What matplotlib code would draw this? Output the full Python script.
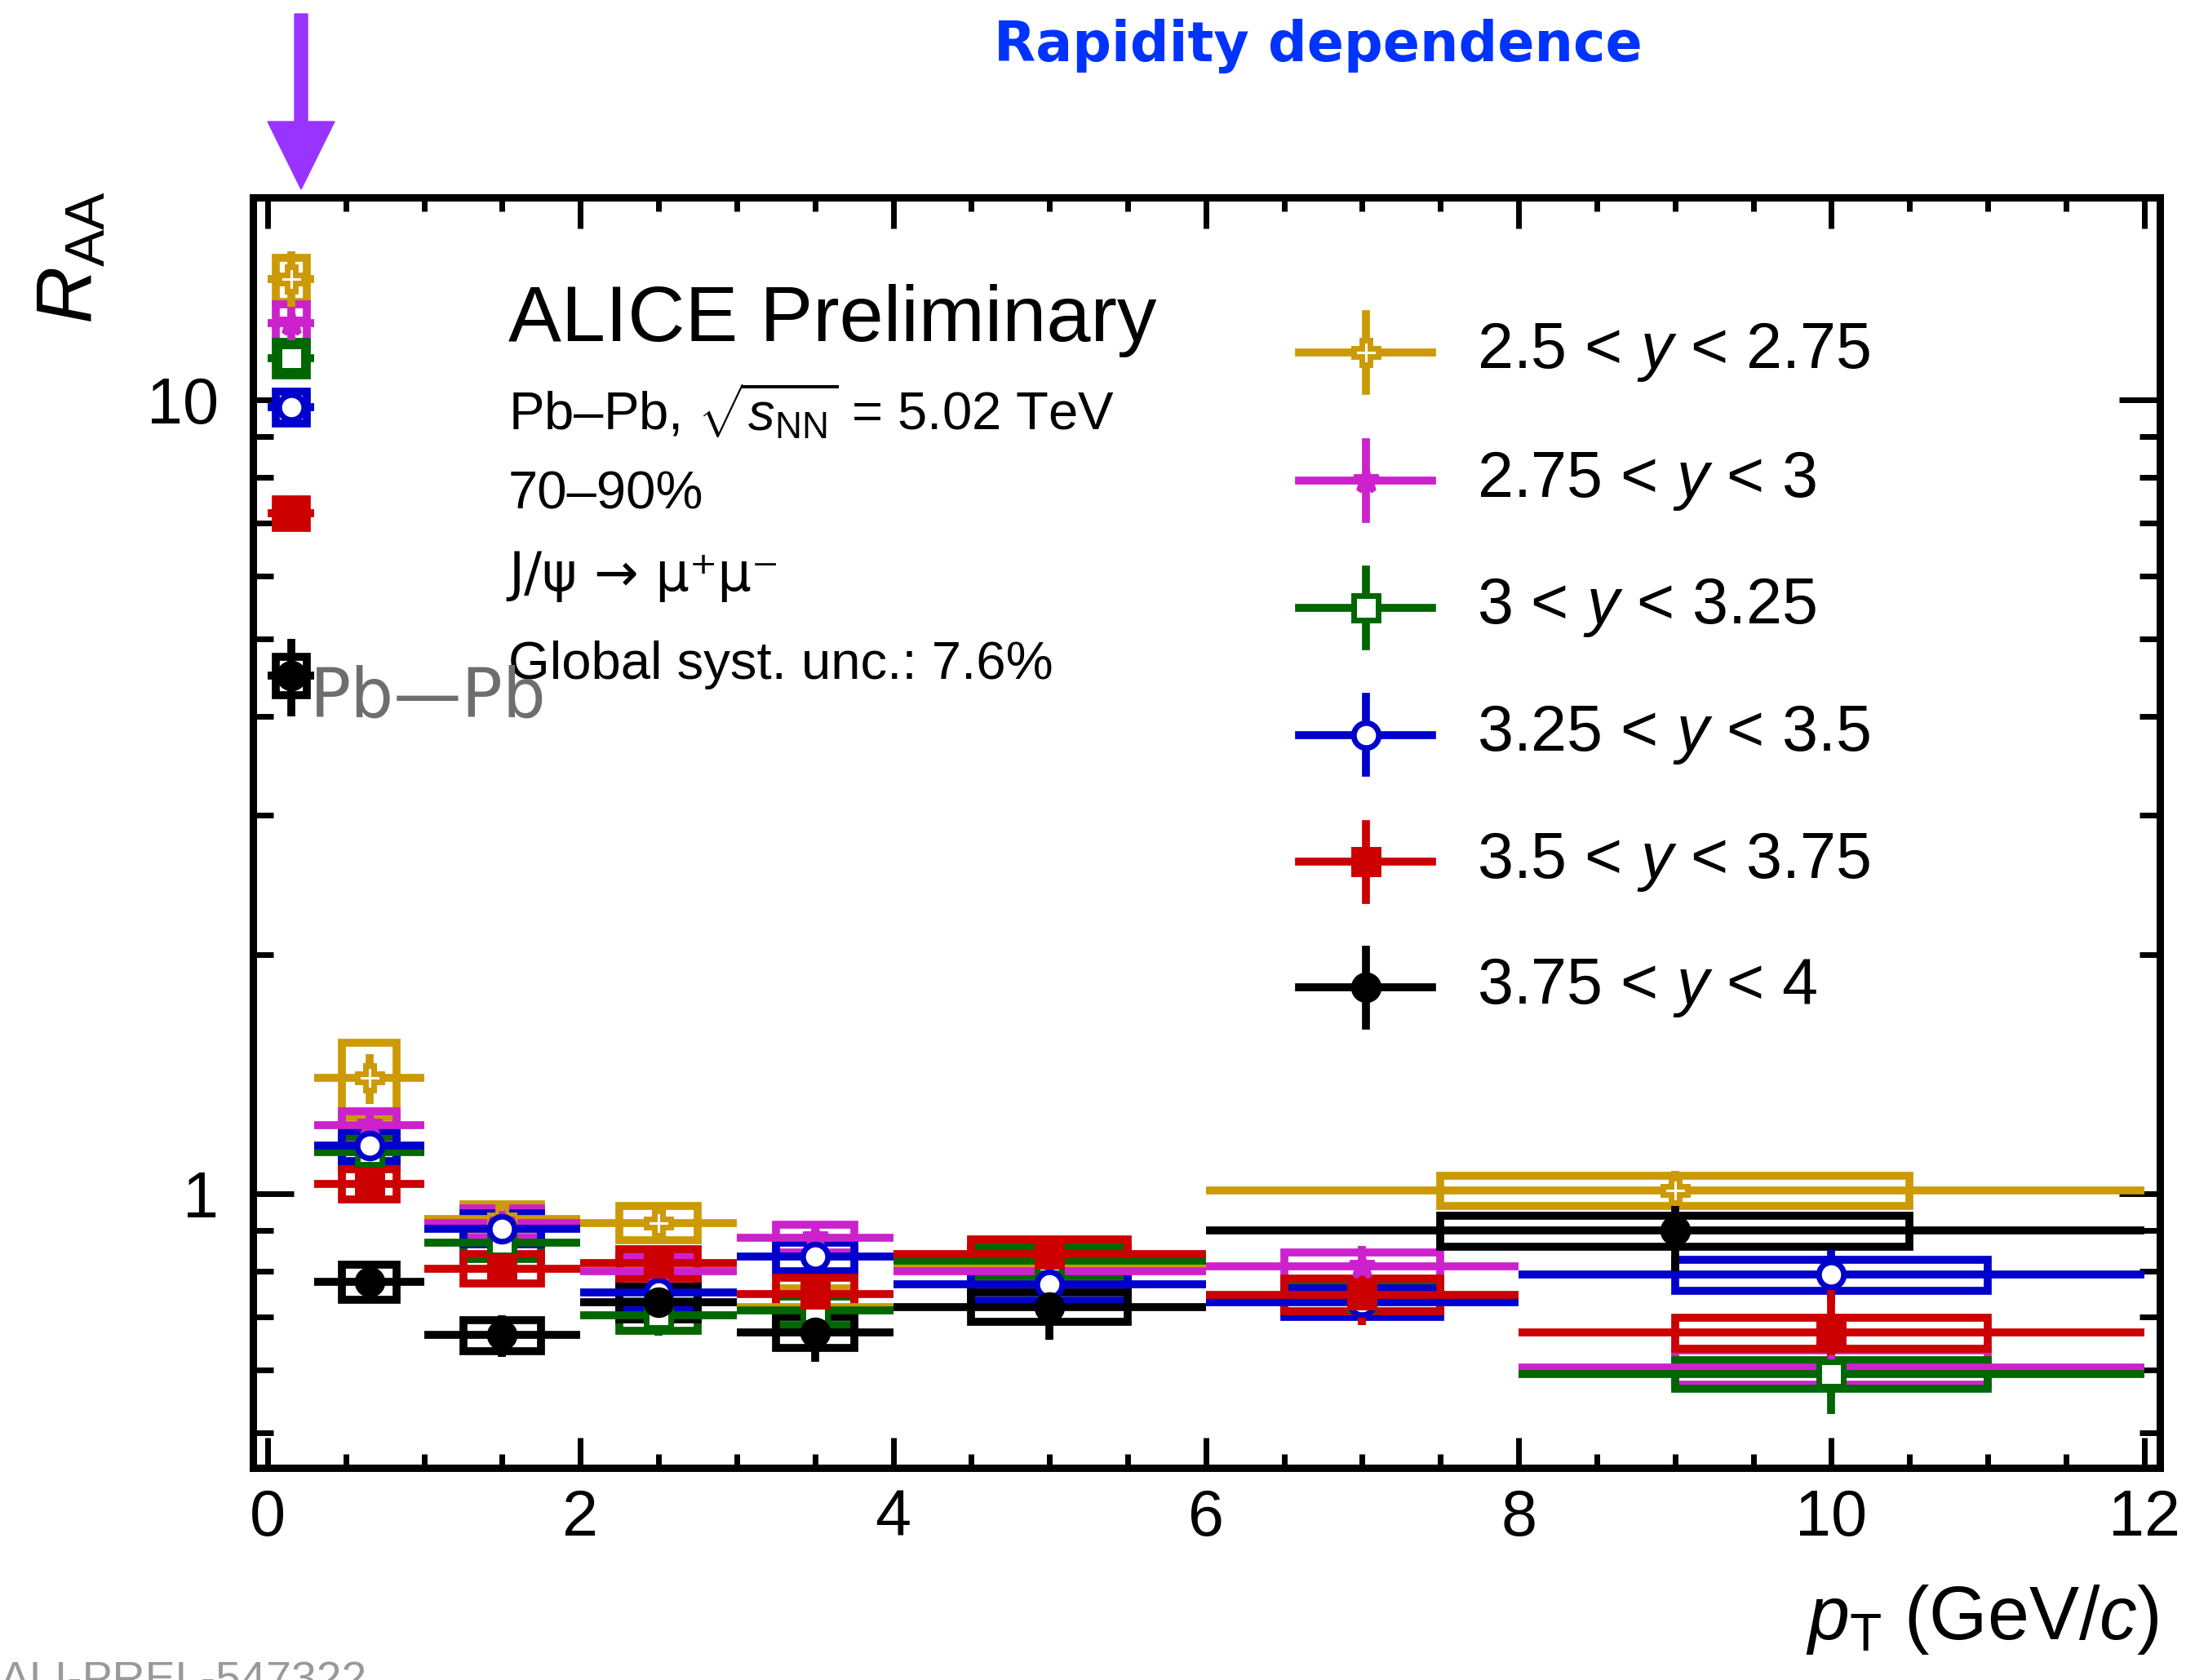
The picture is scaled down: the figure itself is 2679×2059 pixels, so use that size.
import matplotlib
matplotlib.use("Agg")
import matplotlib.pyplot as plt
import numpy as np
from matplotlib.patches import Rectangle, FancyArrow
from matplotlib.ticker import FixedLocator, NullFormatter, LogLocator

plt.rcParams['font.family'] = ['Liberation Sans', 'DejaVu Sans']
plt.rcParams['mathtext.fontset'] = 'custom'
plt.rcParams['mathtext.rm'] = 'Liberation Sans'
plt.rcParams['mathtext.it'] = 'Liberation Sans:italic'
plt.rcParams['mathtext.bf'] = 'Liberation Sans:bold'

# ---- data ----
labels = [r'2.5 < $y$ < 2.75', r'2.75 < $y$ < 3', r'3 < $y$ < 3.25',
          r'3.25 < $y$ < 3.5', r'3.5 < $y$ < 3.75', r'3.75 < $y$ < 4']
colors = ['#cc9a06', '#cc22cc', '#006600', '#0000cc', '#cc0000', '#000000']

edges_a = [0, 0.3, 1, 2, 3, 4, 6, 12]        # 2.5-2.75 and 3.75-4
edges_b = [0, 0.3, 1, 2, 3, 4, 6, 8, 12]     # other rapidity bins

raa_1 = [14.2, 1.40, 0.93, 0.92, 0.72, 0.81, 1.01]
stat_1 = [1.2, 0.10, 0.05, 0.05, 0.05, 0.05, 0.06]
syst_1 = [0.9, 0.15, 0.04, 0.045, 0.04, 0.035, 0.045]

raa_2 = [12.5, 1.22, 0.92, 0.80, 0.88, 0.80, 0.81, 0.605]
stat_2 = [0.6, 0.04, 0.04, 0.04, 0.04, 0.04, 0.05, 0.05]
syst_2 = [0.7, 0.05, 0.04, 0.035, 0.035, 0.035, 0.035, 0.03]

raa_3 = [11.3, 1.13, 0.868, 0.703, 0.713, 0.824, 0.739, 0.593]
stat_3 = [0.5, 0.04, 0.04, 0.04, 0.04, 0.04, 0.04, 0.065]
syst_3 = [0.55, 0.05, 0.04, 0.03, 0.03, 0.035, 0.03, 0.025]

raa_4 = [9.8, 1.15, 0.905, 0.751, 0.834, 0.769, 0.730, 0.791]
stat_4 = [0.4, 0.04, 0.04, 0.035, 0.035, 0.04, 0.04, 0.06]
syst_4 = [0.45, 0.05, 0.04, 0.035, 0.035, 0.035, 0.03, 0.035]

raa_5 = [7.2, 1.03, 0.806, 0.818, 0.749, 0.841, 0.747, 0.669]
stat_5 = [0.25, 0.03, 0.03, 0.03, 0.04, 0.04, 0.063, 0.09]
syst_5 = [0.3, 0.045, 0.035, 0.035, 0.035, 0.035, 0.035, 0.03]

raa_6 = [4.5, 0.775, 0.664, 0.73, 0.670, 0.721, 0.899]
stat_6 = [0.5, 0.04, 0.04, 0.05, 0.055, 0.065, 0.1]
syst_6 = [0.25, 0.04, 0.03, 0.035, 0.03, 0.031, 0.04]

series = [
    (edges_a, raa_1, stat_1, syst_1),
    (edges_b, raa_2, stat_2, syst_2),
    (edges_b, raa_3, stat_3, syst_3),
    (edges_b, raa_4, stat_4, syst_4),
    (edges_b, raa_5, stat_5, syst_5),
    (edges_a, raa_6, stat_6, syst_6),
]
markers = ['P', '*', 's', 'o', 's', 'o']
filled = [False, True, False, False, True, True]

# ---- figure ----
fig = plt.figure(figsize=(26.79, 20.59), dpi=100)
ax = fig.add_axes([0.1157, 0.1263, 0.8723, 0.7562])

lw = 7
for (edges, vals, stat, syst), col, mk, fl in zip(series, colors, markers, filled):
    edges = np.array(edges)
    x = 0.5 * (edges[1:] + edges[:-1])
    xe = 0.5 * (edges[1:] - edges[:-1])
    vals = np.array(vals)
    for xi, xw, v, s in zip(x, xe, vals, syst):
        hw = max(0.5 * xw, 0.1)
        ax.add_patch(Rectangle((xi - hw, v - s), 2 * hw, 2 * s, fill=False,
                               ec=col, lw=lw, zorder=2))
    ax.errorbar(x, vals, xerr=xe, yerr=stat, fmt=mk, color=col, ms=22,
                mfc=col if fl else 'white', mec=col, mew=5, elinewidth=lw,
                capsize=0, zorder=3)

ax.set_yscale('log')
ax.set_xlim(-0.094, 12.1)
ax.set_ylim(0.452, 18.0)

ax.set_xticks([0, 2, 4, 6, 8, 10, 12])
ax.xaxis.set_minor_locator(FixedLocator(np.arange(0, 12.01, 0.5)))
ax.yaxis.set_major_locator(FixedLocator([1, 10]))
ax.yaxis.set_minor_locator(LogLocator(base=10, subs=np.arange(2, 10)))
ax.yaxis.set_minor_formatter(NullFormatter())
ax.set_yticklabels(['1', '10'])

for sp in ax.spines.values():
    sp.set_linewidth(6.5)
ax.xaxis.set_tick_params(which='major', length=27, width=5, direction='in',
                         top=True, bottom=True, labelsize=57, pad=18)
ax.xaxis.set_tick_params(which='minor', length=12, width=5, direction='in',
                         top=True, bottom=True)
ax.yaxis.set_tick_params(which='major', length=36, width=5, direction='in',
                         left=True, right=True, labelsize=57, pad=30)
ax.yaxis.set_tick_params(which='minor', length=18, width=5, direction='in',
                         left=True, right=True)

# axis titles
fig.text(2645 / 2679, 1 - 1985 / 2059, r'$p_{\mathrm{T}}$ (GeV/$c$)',
         ha='right', va='center', fontsize=66)
fig.text(88 / 2679, 1 - 316 / 2059, r'$R_{\mathrm{AA}}$', rotation=90,
         ha='center', va='center', fontsize=70)

# text block
ax.text(0.134, 0.903, 'ALICE Preliminary', transform=ax.transAxes,
        fontsize=70, va='center')
ax.text(0.134, 0.832, r'Pb–Pb, $\sqrt{s_{\mathrm{NN}}}$ = 5.02 TeV',
        transform=ax.transAxes, fontsize=47, va='center')
ax.text(0.134, 0.766, '70–90%', transform=ax.transAxes, fontsize=47, va='center')
ax.text(0.134, 0.702, 'J/ψ → μ⁺μ⁻', transform=ax.transAxes,
        fontsize=47, va='center', family=['DejaVu Sans'])
ax.text(0.134, 0.632, 'Global syst. unc.: 7.6%', transform=ax.transAxes,
        fontsize=47, va='center')

# legend drawn by hand
leg_y = [0.878, 0.777, 0.677, 0.577, 0.477, 0.378]
for yy, lab, col, mk, fl in zip(leg_y, labels, colors, markers, filled):
    ax.plot([0.5486, 0.6183], [yy, yy], color=col, lw=lw,
            transform=ax.transAxes, clip_on=False, zorder=4)
    ax.plot([0.5836, 0.5836], [yy - 0.03, yy + 0.03], color=col, lw=lw,
            transform=ax.transAxes, clip_on=False, zorder=4)
    ax.plot([0.5836], [yy], marker=mk, ms=22, mec=col, mew=5,
            mfc=col if fl else 'white', transform=ax.transAxes,
            clip_on=False, zorder=5)
    ax.text(0.642, yy, lab, transform=ax.transAxes, fontsize=57, va='center')

# annotations on top of the slide
fig.text(1615 / 2679, 1 - 56 / 2059, 'Rapidity dependence', color='#0033ff',
         fontsize=48, fontweight='bold', family='DejaVu Sans',
         ha='center', va='center')
fig.patches.append(FancyArrow(3.69, 20.42, 0, -2.15, width=0.16, head_width=0.82,
                              head_length=0.83, length_includes_head=True,
                              color='#9933ff', transform=fig.dpi_scale_trans,
                              figure=fig))
fig.text(380 / 2679, 1 - 855 / 2059, 'Pb—Pb', color='#6e6e6e', fontsize=60,
         family='DejaVu Sans', ha='left', va='center')
fig.text(0.0, -0.008, 'ALI-PREL-547322', color='#999999', fontsize=40,
         ha='left', va='baseline')

fig.savefig('out.png', dpi=100)
